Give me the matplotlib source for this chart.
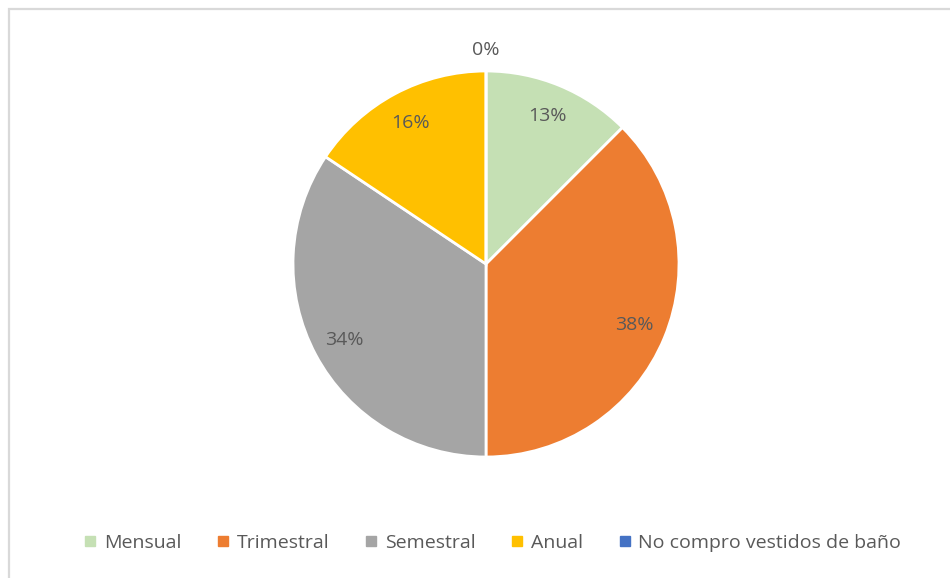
import math
import matplotlib.pyplot as plt
from matplotlib.patches import Rectangle
from matplotlib.lines import Line2D

categories = ["Mensual", "Trimestral", "Semestral", "Anual", "No compro vestidos de baño"]
counts = [4, 12, 11, 5, 0]
colors = ["#C5E0B4", "#ED7D31", "#A5A5A5", "#FFC000", "#4472C4"]

plt.rcParams['font.family'] = ['Open Sans', 'DejaVu Sans']
text_color = "#595959"

W, H = 950, 578
fig = plt.figure(figsize=(W / 100, H / 100), dpi=100)

# chart frame
fig.patches.append(Rectangle((9 / W, -0.05), 1.1, 1 - 9 / H + 0.05,
                             transform=fig.transFigure, fill=False,
                             edgecolor="#D9D9D9", linewidth=1.6))

cx, cy, r = 486, 264, 193
ax = fig.add_axes([(cx - r) / W, 1 - (cy + r) / H, 2 * r / W, 2 * r / H])


def pct_label(p):
    # round half up, as spreadsheet tools do
    return f"{math.floor(p + 0.5 + 1e-9):d}%"


wedges, texts, autotexts = ax.pie(
    counts, colors=colors, startangle=90, counterclock=False,
    radius=1, pctdistance=0.83,
    autopct=pct_label,
    wedgeprops=dict(edgecolor="white", linewidth=2),
    textprops=dict(color=text_color, fontsize=14),
)
for t, v in zip(autotexts, counts):
    if v == 0:
        t.set_position((0, 1.11))
ax.set_xlim(-1, 1)
ax.set_ylim(-1, 1)
ax.set_aspect('equal')
ax.axis('off')

handles = [Line2D([], [], marker='s', linestyle='none', markersize=7,
                  markerfacecolor=c, markeredgecolor=c) for c in colors]
fig.legend(handles, categories, loc='center', bbox_to_anchor=(492 / W, 1 - 543 / H),
           ncol=5, frameon=False, fontsize=14, labelcolor=text_color,
           handlelength=0.8, handletextpad=0.3, columnspacing=1.75)

fig.savefig("out.png", dpi=100)
